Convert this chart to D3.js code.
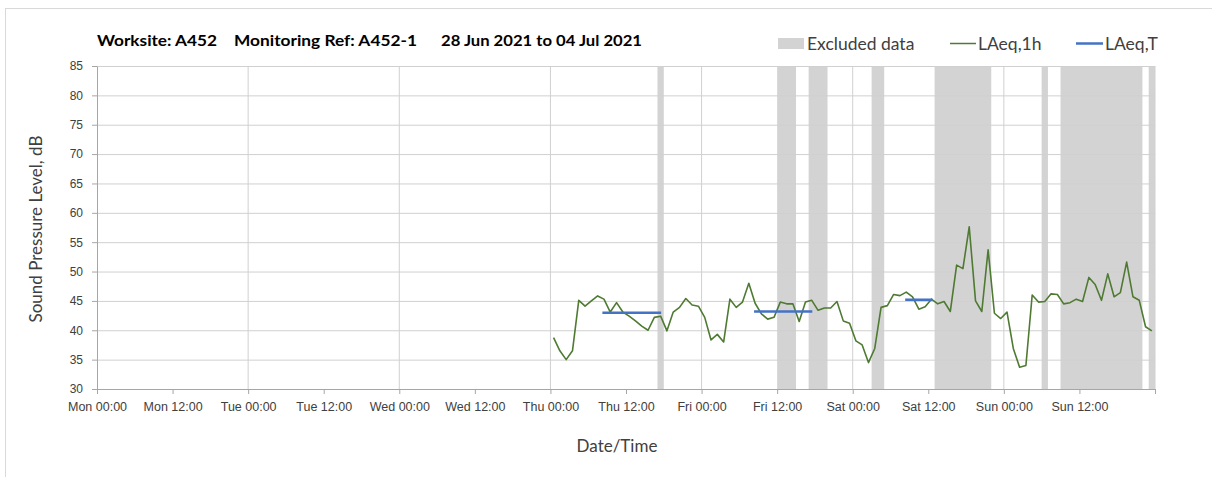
<!DOCTYPE html>
<html>
<head>
<meta charset="utf-8">
<script src="https://cdn.jsdelivr.net/npm/d3@7"></script>
<style>
	body { margin: 0; background: #fff; }
	svg { display: block; font-family: Lato, "Open Sans", sans-serif; }
</style>
</head>
<body>
<svg id="chart"></svg>
<script>
// chart values
const titleParts = ["Worksite: A452", "Monitoring Ref: A452-1", "28 Jun 2021 to 04 Jul 2021"];
const weekStart = "2021-06-28T00:00:00Z";
const weekEnd = "2021-07-05T00:00:00Z";
const yTicks = [30, 35, 40, 45, 50, 55, 60, 65, 70, 75, 80, 85];

// hourly LAeq,1h, first value at Thu 00:30, one every hour
const laeqFirst = "2021-07-01T00:30:00Z";
const laeq1h = [
	38.75, 36.5, 35.0, 36.5, 45.1, 44.1, 45.0, 45.85, 45.3, 43.1, 44.7, 43.1,
	42.4, 41.6, 40.7, 40.0, 42.2, 42.4, 39.9, 43.1, 43.9, 45.4, 44.3, 44.1,
	42.2, 38.35, 39.3, 38.0, 45.3, 43.9, 44.8, 48.0, 44.6, 42.8, 41.9, 42.2,
	44.8, 44.5, 44.5, 41.5, 44.8, 45.1, 43.4, 43.8, 43.8, 44.9, 41.6, 41.2,
	38.2, 37.5, 34.5, 36.9, 43.9, 44.2, 46.1, 45.9, 46.5, 45.7, 43.6, 44.0,
	45.3, 44.5, 44.9, 43.2, 51.1, 50.5, 57.6, 45.0, 43.2, 53.7, 42.9, 42.0,
	43.1, 36.9, 33.7, 34.0, 46.0, 44.8, 44.9, 46.2, 46.1, 44.5, 44.7, 45.3,
	44.9, 49.0, 47.8, 45.1, 49.6, 45.7, 46.4, 51.6, 45.7, 45.1, 40.6, 39.9
];

// excluded periods (start, end)
const excludedStart = [
	"2021-07-01T17:00:00Z", "2021-07-02T12:00:00Z", "2021-07-02T17:00:00Z",
	"2021-07-03T03:00:00Z", "2021-07-03T13:00:00Z", "2021-07-04T06:00:00Z",
	"2021-07-04T09:00:00Z", "2021-07-04T23:00:00Z"
];
const excludedEnd = [
	"2021-07-01T18:00:00Z", "2021-07-02T15:00:00Z", "2021-07-02T20:00:00Z",
	"2021-07-03T05:00:00Z", "2021-07-03T22:00:00Z", "2021-07-04T07:00:00Z",
	"2021-07-04T22:00:00Z", "2021-07-05T00:00:00Z"
];

// LAeq,T periods
const laeqTStart = ["2021-07-01T08:15:00Z", "2021-07-02T08:20:00Z", "2021-07-03T08:20:00Z"];
const laeqTEnd = ["2021-07-01T17:35:00Z", "2021-07-02T17:35:00Z", "2021-07-03T12:40:00Z"];
const laeqTValue = [43.0, 43.2, 45.2];

const w = 1212;
const h = 477;
const margin = { top: 66, right: 57, bottom: 88, left: 97 };
const gridColor = "#d0d0d0";
const textColor = "#404040";

const svg = d3.select("#chart").attr("width", w).attr("height", h);

// outer chart border
svg.append("rect")
	.attr("x", 5.5).attr("y", 8.5)
	.attr("width", w + 10).attr("height", h + 10)
	.attr("fill", "none").attr("stroke", "#d9d9d9");

const x = d3.scaleUtc()
	.domain([new Date(weekStart), new Date(weekEnd)])
	.range([margin.left, w - margin.right]);
const y = d3.scaleLinear()
	.domain([30, 85])
	.range([h - margin.bottom, margin.top]);

const hour = 3600 * 1000;
const lineData = laeq1h.map((v, i) => ({ t: new Date(+new Date(laeqFirst) + i * hour), v: v }));
const bands = excludedStart.map((s, i) => ({ s: new Date(s), e: new Date(excludedEnd[i]) }));
const tLines = laeqTStart.map((s, i) => ({ s: new Date(s), e: new Date(laeqTEnd[i]), v: laeqTValue[i] }));

// excluded bands
svg.append("g").selectAll("rect")
	.data(bands)
	.enter()
	.append("rect")
	.attr("x", (d) => x(d.s))
	.attr("y", y(85))
	.attr("width", (d) => x(d.e) - x(d.s))
	.attr("height", y(30) - y(85))
	.attr("fill", "#d3d3d3");

// horizontal gridlines
svg.append("g")
	.attr("transform", "translate(" + margin.left + ",0)")
	.call(d3.axisLeft(y).tickValues(yTicks.slice(1)).tickSize(-(w - margin.left - margin.right)).tickFormat(""))
	.call((g) => g.select(".domain").remove())
	.selectAll("line").attr("stroke", gridColor);

// vertical gridlines at each midnight
const days = d3.utcDay.range(new Date(weekStart), d3.utcDay.offset(new Date(weekEnd), 1)).slice(1);
svg.append("g")
	.selectAll("line")
	.data(days)
	.enter()
	.append("line")
	.attr("x1", (d) => x(d)).attr("x2", (d) => x(d))
	.attr("y1", y(85)).attr("y2", y(30))
	.attr("stroke", gridColor);

// axes
const xTickVals = d3.utcHour.every(12).range(new Date(weekStart), d3.utcHour.offset(new Date(weekEnd), 1));
const fmt = d3.utcFormat("%a %H:%M");
const xAxis = d3.axisBottom(x)
	.tickValues(xTickVals)
	.tickSize(5)
	.tickPadding(8)
	.tickFormat((d) => (+d === +new Date(weekEnd) ? "" : fmt(d)));
const gx = svg.append("g")
	.attr("transform", "translate(0," + y(30) + ")")
	.call(xAxis);
gx.select(".domain").attr("stroke", "#a6a6a6");
gx.selectAll(".tick line").attr("stroke", "#a6a6a6");
gx.selectAll("text").attr("fill", textColor).style("font-size", "12.5px");

const gy = svg.append("g")
	.attr("transform", "translate(" + margin.left + ",0)")
	.call(d3.axisLeft(y).tickValues(yTicks).tickSize(5).tickSizeOuter(0).tickPadding(9));
gy.select(".domain").attr("stroke", "#a6a6a6");
gy.selectAll(".tick line").attr("stroke", "#a6a6a6");
gy.selectAll("text").attr("fill", textColor).style("font-size", "12px");

// LAeq,1h line
svg.append("path")
	.datum(lineData)
	.attr("fill", "none")
	.attr("stroke", "#4e7a32")
	.attr("stroke-width", 1.6)
	.attr("stroke-linejoin", "round")
	.attr("d", d3.line().x((d) => x(d.t)).y((d) => y(d.v)));

// LAeq,T lines
svg.append("g").selectAll("line")
	.data(tLines)
	.enter()
	.append("line")
	.attr("x1", (d) => x(d.s)).attr("x2", (d) => x(d.e))
	.attr("y1", (d) => y(d.v)).attr("y2", (d) => y(d.v))
	.attr("stroke", "#4472c4")
	.attr("stroke-width", 2.5);

// title, three parts placed like the reference
const titleX = [97, 234, 441];
const titleW = [120, 183, 201];
svg.append("g").selectAll("text")
	.data(titleParts)
	.enter()
	.append("text")
	.attr("x", (d, i) => titleX[i])
	.attr("y", 46)
	.attr("textLength", (d, i) => titleW[i])
	.attr("lengthAdjust", "spacingAndGlyphs")
	.attr("fill", "#000")
	.style("font-size", "16px")
	.style("font-weight", "bold")
	.text((d) => d);

// legend
const legend = svg.append("g").style("font-size", "17.5px").attr("fill", textColor);
legend.append("rect").attr("x", 778).attr("y", 38).attr("width", 26).attr("height", 11).attr("fill", "#d3d3d3");
legend.append("text").attr("x", 807).attr("y", 49.5).text("Excluded data");
legend.append("line").attr("x1", 950).attr("x2", 976).attr("y1", 43.5).attr("y2", 43.5)
	.attr("stroke", "#4e7a32").attr("stroke-width", 1.5);
legend.append("text").attr("x", 978).attr("y", 49.5).text("LAeq,1h");
legend.append("line").attr("x1", 1076).attr("x2", 1103).attr("y1", 43.5).attr("y2", 43.5)
	.attr("stroke", "#4472c4").attr("stroke-width", 2.5);
legend.append("text").attr("x", 1105).attr("y", 49.5).text("LAeq,T");

// axis titles
svg.append("text")
	.attr("transform", "translate(42,229) rotate(-90)")
	.attr("text-anchor", "middle")
	.attr("fill", textColor)
	.style("font-size", "17px")
	.text("Sound Pressure Level, dB");
svg.append("text")
	.attr("x", 617)
	.attr("y", 452)
	.attr("text-anchor", "middle")
	.attr("fill", textColor)
	.style("font-size", "17px")
	.text("Date/Time");
</script>
</body>
</html>
